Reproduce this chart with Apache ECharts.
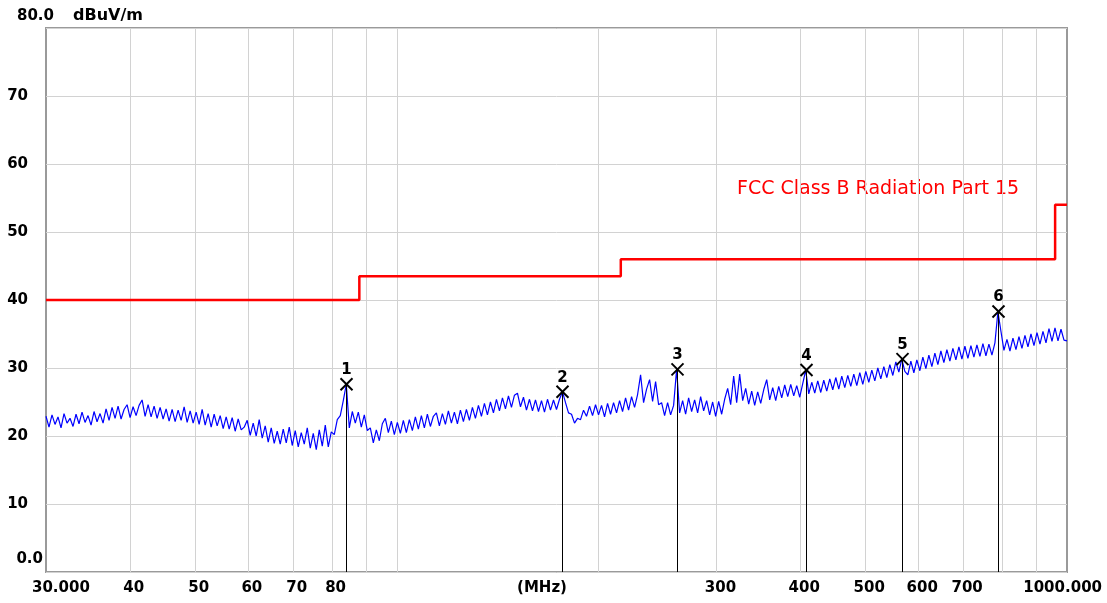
<!DOCTYPE html>
<html>
<head>
<meta charset="utf-8">
<script src="https://cdn.jsdelivr.net/npm/echarts@6/dist/echarts.min.js"></script>
<style>
  html, body { margin: 0; padding: 0; background: #fff; }
  #chart { width: 1107px; height: 603px; }
</style>
</head>
<body>
<div id="chart"></div>
<script>
// sweep 30 - 1000 MHz, log spaced points
const START_MHZ = 30;
const STOP_MHZ = 1000;

const trace = [
  22.9, 21.3, 23.1, 21.7, 22.8, 21.2, 23.3, 21.9, 22.6, 21.4,
  23.2, 21.8, 23.5, 22.0, 23.0, 21.6, 23.6, 22.1, 23.3, 21.9,
  24.0, 22.3, 24.2, 22.6, 24.4, 22.5, 23.9, 24.6, 22.7, 24.3,
  23.0, 24.5, 25.3, 22.9, 24.6, 22.8, 24.4, 22.6, 24.2, 22.5,
  24.0, 22.2, 23.9, 22.1, 23.8, 22.3, 24.3, 22.0, 23.7, 21.9,
  23.5, 21.7, 23.9, 21.6, 23.3, 21.3, 23.2, 21.5, 23.0, 21.1,
  22.8, 21.0, 22.7, 20.7, 22.5, 20.9, 21.3, 22.3, 20.1, 21.9,
  20.0, 22.4, 19.7, 21.5, 19.1, 21.2, 18.9, 20.7, 18.8, 21.0,
  19.0, 21.3, 18.6, 20.8, 18.4, 20.5, 18.8, 21.2, 18.2, 20.4,
  18.0, 20.9, 18.5, 21.6, 18.4, 20.6, 20.2, 22.4, 23.0, 25.2,
  27.6, 21.2, 23.6, 21.9, 23.5, 21.3, 23.1, 20.8, 21.2, 19.0,
  20.9, 19.3, 21.8, 22.6, 20.5, 22.2, 20.2, 22.0, 20.4, 22.3,
  20.5, 22.4, 20.8, 22.8, 21.0, 23.0, 21.2, 23.2, 21.4, 22.9,
  23.4, 21.5, 23.3, 21.7, 23.7, 21.9, 23.5, 21.8, 23.8, 22.1,
  23.9, 22.3, 24.2, 22.6, 24.5, 22.9, 24.8, 23.1, 25.0, 23.4,
  25.4, 23.7, 25.6, 24.0, 25.9, 24.2, 26.0, 26.3, 24.3, 25.7,
  23.8, 25.4, 23.7, 25.3, 23.6, 25.2, 23.5, 25.4, 23.8, 25.3,
  23.9, 25.4, 26.5, 24.9, 23.4, 23.2, 21.9, 22.6, 22.4, 23.8,
  22.9, 24.4, 23.0, 24.6, 23.1, 24.5, 22.8, 24.8, 23.2, 24.9,
  23.4, 25.2, 23.6, 25.6, 23.8, 25.8, 24.2, 26.1, 29.0, 24.9,
  26.9, 28.3, 25.1, 28.0, 24.6, 24.9, 23.0, 24.9, 23.1, 24.5,
  29.8, 23.4, 25.2, 23.2, 25.6, 23.6, 25.3, 23.4, 25.8, 23.7,
  25.2, 23.1, 25.0, 22.9, 25.1, 23.2, 25.4, 27.0, 24.6, 28.8,
  24.9, 29.1, 25.2, 27.0, 24.7, 26.6, 24.5, 26.5, 24.8, 26.8,
  28.3, 25.3, 27.1, 25.2, 27.3, 25.6, 27.5, 25.8, 27.6, 25.9,
  27.4, 25.7, 27.7, 29.7, 26.2, 27.9, 26.3, 28.1, 26.4, 28.2,
  26.6, 28.4, 26.8, 28.6, 26.9, 28.8, 27.1, 28.9, 27.3, 29.1,
  27.4, 29.3, 27.6, 29.5, 27.9, 29.7, 28.1, 30.0, 28.4, 30.2,
  28.6, 30.5, 28.9, 30.9, 29.4, 31.3, 29.5, 29.0, 31.0, 29.3,
  31.2, 29.6, 31.6, 29.9, 31.9, 30.2, 32.2, 30.5, 32.5, 30.8,
  32.7, 31.0, 32.9, 31.2, 33.1, 31.3, 33.2, 31.4, 33.3, 31.6,
  33.4, 31.7, 33.6, 31.8, 33.5, 31.9, 33.7, 38.3, 35.4, 32.6,
  34.2, 32.5, 34.4, 32.7, 34.6, 32.9, 34.8, 33.1, 35.0, 33.3,
  35.2, 33.5, 35.4, 33.7, 35.8, 33.9, 35.9, 34.0, 35.7, 34.1,
  34.0
];

// FCC Class B (Part 15) radiated limit, step at each frequency
const limitFreqs = [30, 88, 216, 960, 1000];
const limitLevels = [40, 43.5, 46, 54, 54];

// peak markers 1..6
const markerFreqs = [84.1, 176.8, 261.7, 407.7, 567.1, 789.1];
const markerLevels = [27.6, 26.5, 29.8, 29.7, 31.3, 38.3];

// axis ticks
const gridFreqs = [40, 50, 60, 70, 80, 90, 100, 200, 300, 400, 500, 600, 700, 800, 900];
const xTickFreqs = [30, 40, 50, 60, 70, 80, 300, 400, 500, 600, 700, 1000];
const xTickLabels = ['30.000', '40', '50', '60', '70', '80', '300', '400', '500', '600', '700', '1000.000'];

const FONT = '"DejaVu Sans", "Liberation Sans", sans-serif';

// sweep frequency of each trace point
const n = trace.length;
const traceData = trace.map((v, i) => [START_MHZ * Math.pow(STOP_MHZ / START_MHZ, i / (n - 1)), v]);

const chart = echarts.init(document.getElementById('chart'));

chart.setOption({
  animation: false,
  backgroundColor: '#fff',
  grid: {
    left: 46, right: 40, top: 28, bottom: 31,
    show: true, borderColor: '#9a9a9a', borderWidth: 2
  },
  xAxis: {
    type: 'log',
    logBase: 10,
    min: START_MHZ,
    max: STOP_MHZ,
    axisLine: { show: false },
    axisTick: { show: false },
    axisLabel: { show: false },
    splitLine: { show: false }
  },
  yAxis: {
    type: 'value',
    min: 0,
    max: 80,
    interval: 10,
    axisLine: { show: false },
    axisTick: { show: false },
    axisLabel: {
      margin: 18,
      color: '#000',
      fontFamily: FONT,
      fontWeight: 'bold',
      fontSize: 15,
      formatter: v => (v === 0 || v === 80) ? '' : String(v)
    },
    splitLine: { lineStyle: { color: '#d2d2d2', width: 1 } }
  },
  graphic: [
    { type: 'text', x: 17, y: 16, style: { text: '80.0', fontFamily: FONT, fontWeight: 'bold', fontSize: 15, fill: '#000', verticalAlign: 'middle' } },
    { type: 'text', x: 73, y: 16, style: { text: 'dBuV/m', fontFamily: FONT, fontWeight: 'bold', fontSize: 16, fill: '#000', verticalAlign: 'middle' } },
    { type: 'text', x: 43, y: 559, style: { text: '0.0', fontFamily: FONT, fontWeight: 'bold', fontSize: 15, fill: '#000', align: 'right', verticalAlign: 'middle' } },
    { type: 'text', x: 542, y: 588, style: { text: '(MHz)', fontFamily: FONT, fontWeight: 'bold', fontSize: 15, fill: '#000', align: 'center', verticalAlign: 'middle' } },
    { type: 'text', x: 737, y: 189, style: { text: 'FCC Class B Radiation Part 15', fontFamily: FONT, fontSize: 19, fill: '#ff0000', verticalAlign: 'middle' } }
  ],
  series: [
    {
      // vertical grid lines
      type: 'custom',
      z: 1,
      silent: true,
      data: gridFreqs.map(f => [f, 0]),
      renderItem: function (params, api) {
        const lo = api.coord([api.value(0), 0]);
        const hi = api.coord([api.value(0), 80]);
        return {
          type: 'line',
          shape: { x1: Math.round(lo[0]) + 0.5, y1: lo[1], x2: Math.round(hi[0]) + 0.5, y2: hi[1] },
          style: { stroke: '#d2d2d2', lineWidth: 1 }
        };
      }
    },
    {
      // x tick labels
      type: 'custom',
      z: 1,
      silent: true,
      data: xTickFreqs.map(f => [f, 0]),
      renderItem: function (params, api) {
        const p = api.coord([api.value(0), 0]);
        const i = params.dataIndex;
        let x = p[0] + 4, align = 'center';
        if (i === 0) { x = p[0] - 14; align = 'left'; }
        if (i === xTickFreqs.length - 1) { x = p[0] + 35; align = 'right'; }
        return {
          type: 'text',
          style: {
            text: xTickLabels[i], x: x, y: p[1] + 16,
            align: align, verticalAlign: 'middle',
            fontFamily: FONT, fontWeight: 'bold', fontSize: 15, fill: '#000'
          }
        };
      }
    },
    {
      name: 'FCC Class B Radiation Part 15',
      type: 'line',
      z: 3,
      step: 'end',
      showSymbol: false,
      data: limitFreqs.map((f, i) => [f, limitLevels[i]]),
      lineStyle: { color: '#ff0000', width: 2.5 }
    },
    {
      name: 'Level',
      type: 'line',
      z: 4,
      showSymbol: false,
      sampling: null,
      data: traceData,
      lineStyle: { color: '#0000ff', width: 1.2 }
    },
    {
      // peak markers
      type: 'custom',
      z: 5,
      data: markerFreqs.map((f, i) => [f, markerLevels[i]]),
      renderItem: function (params, api) {
        const p = api.coord([api.value(0), api.value(1)]);
        const base = api.coord([api.value(0), 0]);
        const s = 6;
        const x = Math.round(p[0]) + 0.5;
        return {
          type: 'group',
          children: [
            { type: 'line', shape: { x1: x, y1: p[1], x2: x, y2: base[1] }, style: { stroke: '#000', lineWidth: 1 } },
            { type: 'line', shape: { x1: x - s, y1: p[1] - s, x2: x + s, y2: p[1] + s }, style: { stroke: '#000', lineWidth: 2 } },
            { type: 'line', shape: { x1: x - s, y1: p[1] + s, x2: x + s, y2: p[1] - s }, style: { stroke: '#000', lineWidth: 2 } },
            {
              type: 'text',
              style: {
                text: String(params.dataIndex + 1), x: x, y: p[1] - 14,
                align: 'center', verticalAlign: 'middle',
                fontFamily: FONT, fontWeight: 'bold', fontSize: 15, fill: '#000'
              }
            }
          ]
        };
      }
    }
  ]
});
</script>
</body>
</html>
